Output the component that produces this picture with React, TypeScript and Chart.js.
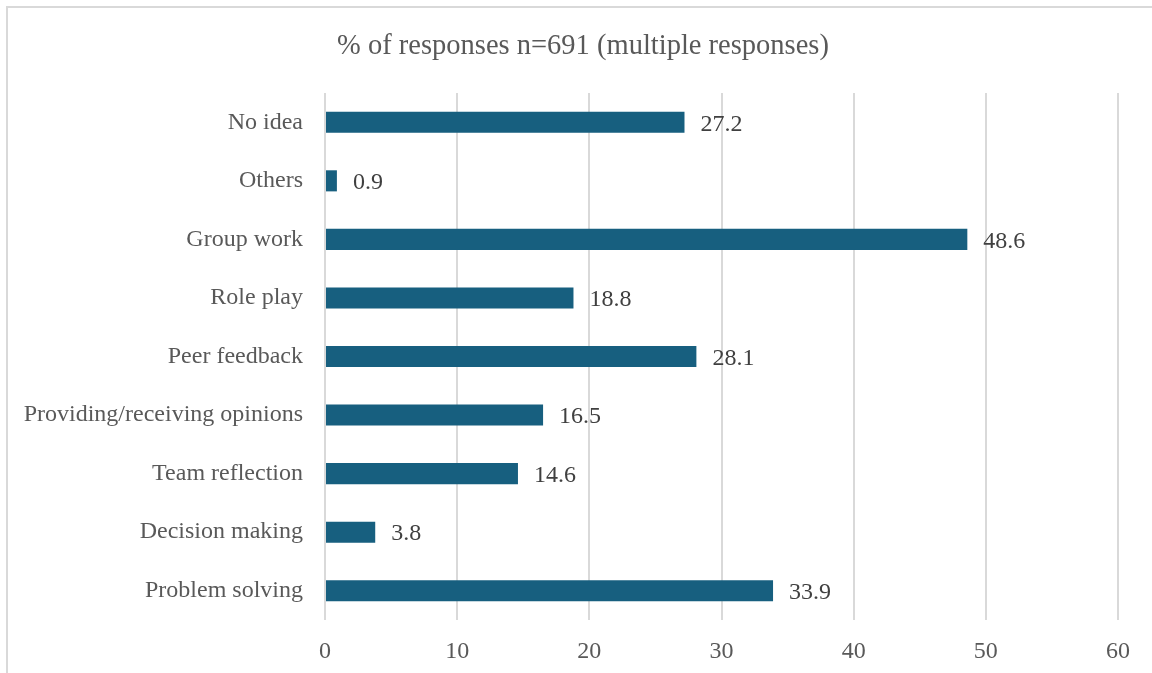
import React, { useEffect, useRef } from "react";
import { Chart, registerables } from "chart.js";

Chart.register(...registerables);

const categories: string[] = [
  "No idea",
  "Others",
  "Group work",
  "Role play",
  "Peer feedback",
  "Providing/receiving opinions",
  "Team reflection",
  "Decision making",
  "Problem solving",
];
const percentages: number[] = [27.2, 0.9, 48.6, 18.8, 28.1, 16.5, 14.6, 3.8, 33.9];
const xTicks: number[] = [0, 10, 20, 30, 40, 50, 60];
const titleText = "% of responses n=691 (multiple responses)";

const FONT = '"Liberation Serif", "Times New Roman", serif';
const W = 1152;
const H = 673;

const framePlugin = {
  id: "frame",
  beforeDraw(chart: any) {
    const ctx = chart.ctx;
    ctx.save();
    ctx.fillStyle = "#ffffff";
    ctx.fillRect(0, 0, chart.width, chart.height);
    ctx.fillStyle = "#d9d9d9";
    ctx.fillRect(6, 6, chart.width, 2);
    ctx.fillRect(6, 6, 2, chart.height);
    // title, centred on the framed region
    ctx.font = `28.5px ${FONT}`;
    ctx.fillStyle = "#595959";
    ctx.textAlign = "center";
    ctx.textBaseline = "middle";
    ctx.fillText(titleText, 583, 47);
    ctx.restore();
  },
};

const labelPlugin = {
  id: "valueLabels",
  afterDatasetsDraw(chart: any) {
    const ctx = chart.ctx;
    const meta = chart.getDatasetMeta(0);
    const data = chart.data.datasets[0].data as number[];
    ctx.save();
    ctx.font = `24px ${FONT}`;
    ctx.fillStyle = "#404040";
    ctx.textAlign = "left";
    ctx.textBaseline = "middle";
    meta.data.forEach((bar: any, i: number) => {
      ctx.fillText(data[i].toFixed(1), bar.x + 16, bar.y + 2);
    });
    ctx.restore();
  },
};

export default function App() {
  const ref = useRef<HTMLCanvasElement | null>(null);

  useEffect(() => {
    if (!ref.current) return;
    const chart = new Chart(ref.current, {
      type: "bar",
      data: {
        labels: categories,
        datasets: [
          {
            data: percentages,
            backgroundColor: "#175f7f",
            borderWidth: 0,
            categoryPercentage: 1,
            barPercentage: 0.36,
          },
        ],
      },
      options: {
        indexAxis: "y",
        responsive: false,
        animation: false,
        layout: { padding: { left: 0, right: 34, top: 93, bottom: 0 } },
        plugins: {
          legend: { display: false },
          tooltip: { enabled: false },
          title: { display: false },
        },
        scales: {
          x: {
            min: 0,
            max: 60,
            afterBuildTicks(scale: any) {
              scale.ticks = xTicks.map((v) => ({ value: v }));
            },
            afterFit(scale: any) {
              scale.height = 53;
            },
            grid: { color: "#d9d9d9", lineWidth: 2, drawTicks: false },
            border: { display: false },
            ticks: {
              color: "#595959",
              padding: 17,
              font: { family: FONT, size: 24 },
            },
          },
          y: {
            afterFit(scale: any) {
              scale.width = 325;
            },
            grid: { display: false, drawTicks: false },
            border: { display: false },
            ticks: {
              color: "#595959",
              padding: 22,
              font: { family: FONT, size: 24 },
            },
          },
        },
      },
      plugins: [framePlugin, labelPlugin],
    });
    return () => chart.destroy();
  }, []);

  return (
    <div style={{ position: "fixed", left: 0, top: 0, width: W, height: H, background: "#fff" }}>
      <canvas ref={ref} width={W} height={H} style={{ display: "block" }} />
    </div>
  );
}
